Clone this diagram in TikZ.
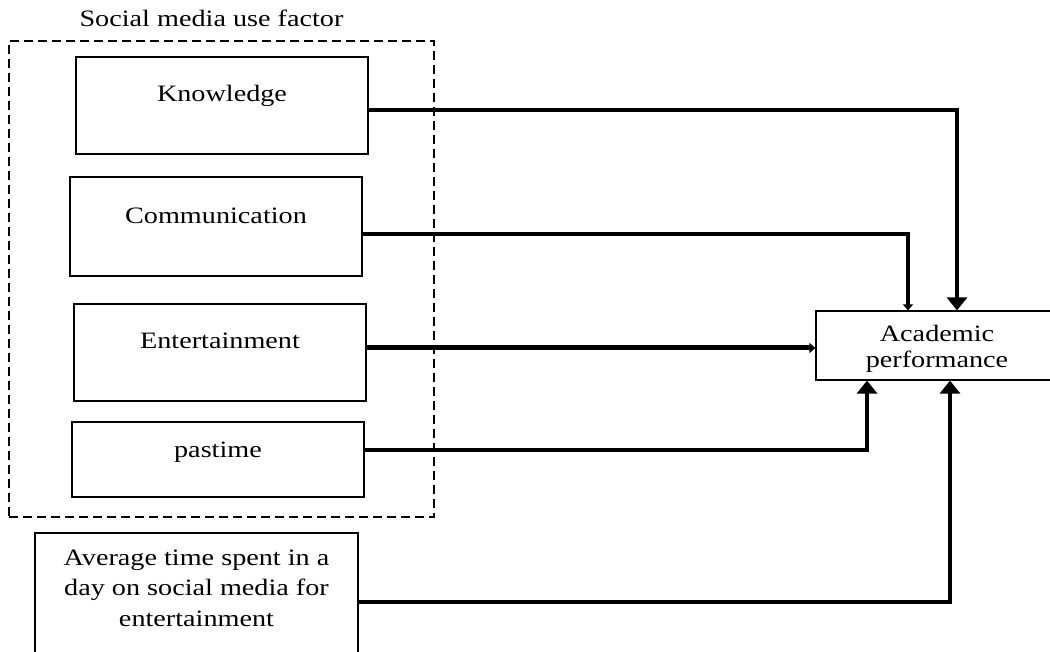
\documentclass[tikz,border=0pt]{standalone}
\usepackage{fontspec}
\setmainfont[FakeStretch=1.2]{Liberation Serif}
\usetikzlibrary{arrows.meta}

\begin{document}
\begin{tikzpicture}[x=1pt,y=-1pt,
  every node/.style={font=\fontsize{23.5}{28}\selectfont},
  box/.style={draw, line width=1.2pt, inner sep=0pt},
  group/.style={draw, line width=1.2pt, dash pattern=on 9pt off 5pt, inner sep=0pt},
  conn/.style={line width=3.4pt},
  bighead/.style={-{Triangle[width=20pt,length=13pt]}},
  smallhead/.style={-{Triangle[width=10pt,length=6pt]}}
]
\useasboundingbox (0,0) rectangle (1050,652);
\clip (0,0) rectangle (1050,652);

% group frame and its caption
\node[group, minimum width=425pt, minimum height=476pt] (grp) at (221.5,279) {};
\node[anchor=base] (title) at (211.5,27) {Social media use factor};

% factor boxes
\node[box, minimum width=292pt, text height=45pt, text depth=52pt] (know) at (222,105.5) {Knowledge};
\node[box, minimum width=292pt, text height=47pt, text depth=52pt] (comm) at (216,226.5) {Communication};
\node[box, minimum width=292pt, text height=45pt, text depth=52pt] (ent) at (220,352.5) {Entertainment};
\node[box, minimum width=292pt, text height=35pt, text depth=40pt] (past) at (218,459.5) {pastime};

% time spent box
\node[box, minimum width=323pt, text height=32pt, text depth=100pt] (avg) at (196.5,599)
  {\parbox[t]{320pt}{\centering\fontsize{23.5}{30.5}\selectfont Average time spent in a\\ day on social media for\\ entertainment}};

% outcome box
\node[box, minimum width=242pt, text height=31pt, text depth=38pt] (acad) at (937,345.5)
  {\parbox[t]{200pt}{\centering\fontsize{23.5}{25}\selectfont Academic\\ performance}};

% connectors
\draw[conn, bighead] ([yshift=-4.5pt]know.east) -| ([xshift=20pt]acad.north);
\draw[conn, smallhead] ([yshift=-7.5pt]comm.east) -| ([xshift=-29pt]acad.north);
\draw[conn, line width=5pt, smallhead] ([yshift=4.5pt]ent.east) -- ([yshift=-2.5pt]acad.west);
\draw[conn, bighead] ([yshift=9.5pt]past.east) -| ([xshift=-70pt]acad.south);
\draw[conn, bighead] ([yshift=-3pt]avg.east) -| ([xshift=13pt]acad.south);
\end{tikzpicture}
\end{document}
